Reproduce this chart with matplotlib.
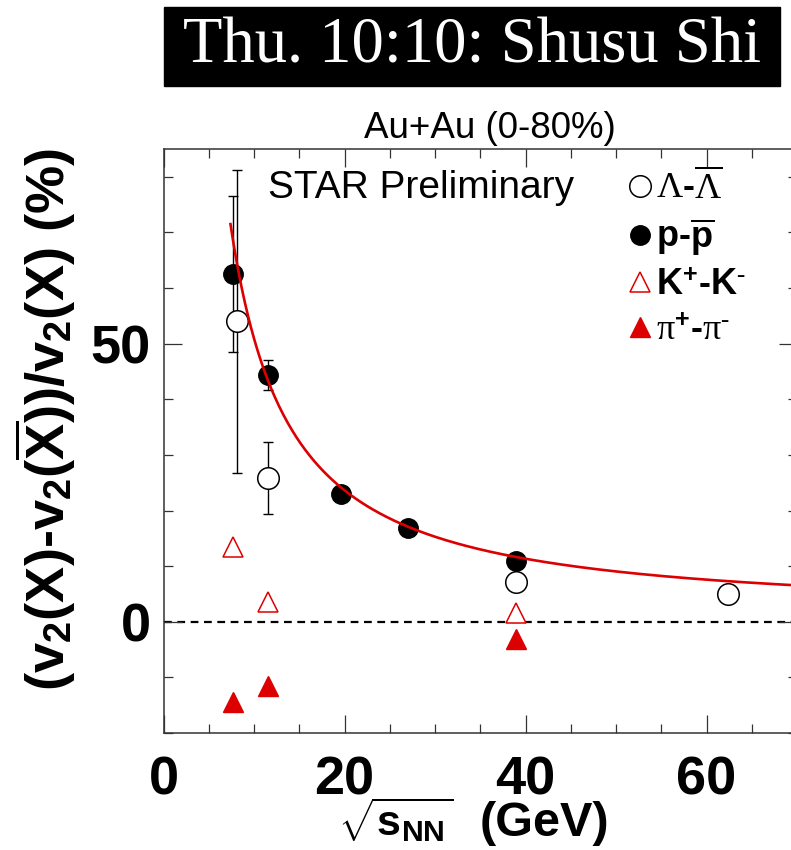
import numpy as np
import matplotlib
matplotlib.use("Agg")
import matplotlib.pyplot as plt
from matplotlib.patches import Rectangle
from matplotlib.ticker import MultipleLocator

plt.rcParams['font.family'] = ['Liberation Sans', 'DejaVu Sans']
plt.rcParams['mathtext.fontset'] = 'custom'
plt.rcParams['mathtext.rm'] = 'Liberation Serif'
plt.rcParams['mathtext.it'] = 'Liberation Serif:italic'
plt.rcParams['mathtext.bf'] = 'Liberation Sans:bold'
plt.rcParams['mathtext.sf'] = 'Liberation Sans'

# beam energies (GeV) and relative v2 difference (%)
lam_x = [8.15, 11.5, 39.0, 62.4]
lam_y = [54.0, 25.9, 7.2, 5.0]
lam_err = [27.3, 6.5, 0.0, 0.0]

p_x = [7.7, 11.5, 19.6, 27.0, 39.0]
p_y = [62.5, 44.4, 22.9, 16.8, 11.0]
p_err = [14.0, 2.7, 0.0, 0.0, 0.0]

k_x = [7.7, 11.5, 39.0]
k_y = [13.4, 3.5, 1.5]

pi_x = [7.7, 11.5, 39.0]
pi_y = [-14.4, -11.5, -3.1]

# power-law fit to the proton points: A * x^-b + C
fit_A, fit_b, fit_C = 702.0, 1.15, 1.24
fit_range = (7.4, 72.0)

W, H = 791, 850
RED = '#dd0000'


def fx(px):
    return px / W


def fy(py):
    return 1 - py / H


fig = plt.figure(figsize=(W / 100, H / 100), dpi=100)
ax = fig.add_axes([fx(163.5), fy(733), 633.5 / W, (733 - 149) / H])

ax.axhline(0, color='black', lw=1.6, ls=(0, (3.5, 2.5)), zorder=1)

ax.errorbar(lam_x, lam_y, yerr=lam_err, fmt='none', ecolor='black',
            elinewidth=1.0, capsize=3.5, capthick=1.0, zorder=2)
ax.errorbar(p_x, p_y, yerr=p_err, fmt='none', ecolor='black',
            elinewidth=1.0, capsize=3.5, capthick=1.0, zorder=2)

h_lam, = ax.plot(lam_x, lam_y, 'o', ms=15.5, mfc='white', mec='black',
                 mew=1.1, ls='none', zorder=3)
h_p, = ax.plot(p_x, p_y, 'o', ms=14, mfc='black', mec='black',
               ls='none', zorder=3)
h_k, = ax.plot(k_x, k_y, '^', ms=15, mfc='white', mec=RED, mew=1.1,
               ls='none', zorder=3)
h_pi, = ax.plot(pi_x, pi_y, '^', ms=15, mfc=RED, mec=RED,
                ls='none', zorder=3)

xf = np.linspace(fit_range[0], fit_range[1], 400)
ax.plot(xf, fit_A * xf ** (-fit_b) + fit_C, color=RED, lw=1.9, zorder=4)

ax.set_xlim(0, 70)
ax.set_ylim(-20, 85)
ax.xaxis.set_major_locator(MultipleLocator(20))
ax.xaxis.set_minor_locator(MultipleLocator(5))
ax.yaxis.set_major_locator(MultipleLocator(50))
ax.yaxis.set_minor_locator(MultipleLocator(10))
ax.tick_params(which='both', direction='in', top=True, right=True,
               width=0.9, color='#333333')
ax.tick_params(which='major', length=13, labelsize=39)
ax.tick_params(which='minor', length=6.5)
ax.tick_params(axis='x', which='major', pad=16)
ax.tick_params(axis='y', which='major', pad=9)
for lab in ax.get_xticklabels() + ax.get_yticklabels():
    lab.set_fontweight('bold')
for sp in ax.spines.values():
    sp.set_linewidth(1.1)
    sp.set_color('#333333')

# x title: radical part and unit part
fig.text(fx(338), fy(836), r'$\sqrt{\mathbf{s}_{\mathbf{NN}}}$',
         fontsize=31, ha='left', va='baseline')
fig.text(fx(480), fy(836), '(GeV)', fontsize=35, fontweight='bold',
         ha='left', va='baseline')
fig.text(fx(45), fy(420),
         r'(v$_{\mathbf{2}}$(X)-v$_{\mathbf{2}}$($\mathbf{\overline{X}}$))'
         r'/v$_{\mathbf{2}}$(X) (%)',
         fontsize=39, fontweight='bold', rotation=90,
         ha='center', va='center')

ax.legend([h_lam, h_p, h_k, h_pi],
          [r'$\mathrm{\Lambda}$-$\overline{\mathrm{\Lambda}}$',
           r'p-$\mathbf{\overline{p}}$',
           r'K$^{\mathbf{+}}$-K$^{\text{-}}$',
           r'$\mathrm{\pi}^{\mathbf{+}}$-$\mathrm{\pi}^{\text{-}}$'],
          loc='upper left', bbox_to_anchor=(0.712, 0.99), frameon=False,
          prop={'size': 26, 'weight': 'bold'}, handlelength=0.6,
          handletextpad=0.15, labelspacing=0.27, borderaxespad=0)

fig.text(fx(268), fy(188), 'STAR Preliminary', fontsize=28,
         ha='left', va='center')
fig.text(fx(490), fy(129), 'Au+Au (0-80%)', fontsize=26.5,
         ha='center', va='center')

fig.add_artist(Rectangle((fx(164), fy(86)), (780 - 164) / W, (86 - 7) / H,
                         transform=fig.transFigure, color='black', zorder=0))
fig.text(fx(472), fy(47), 'Thu. 10:10: Shusu Shi', fontsize=46.5,
         family='Liberation Serif', color='white', ha='center', va='center')

fig.savefig('out.png', dpi=100)
